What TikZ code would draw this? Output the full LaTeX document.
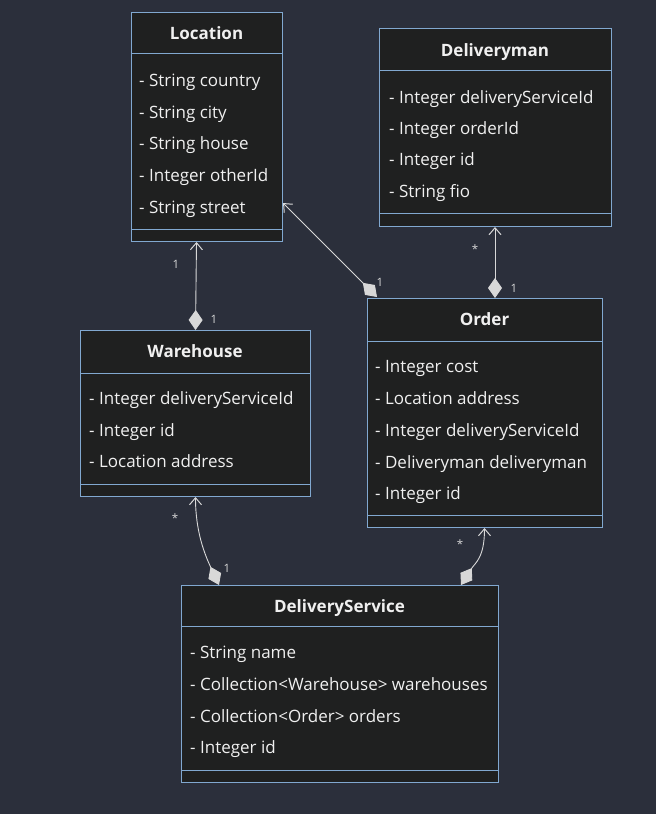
\documentclass[tikz,border=0pt]{standalone}
\usepackage{fontspec}
\setmainfont{Open Sans}
\usetikzlibrary{arrows.meta}
\definecolor{bg}{HTML}{2B2F3B}
\definecolor{boxfill}{HTML}{1F2020}
\definecolor{boxline}{HTML}{81A8D0}
\definecolor{txt}{HTML}{F0F0F0}
\definecolor{lnk}{HTML}{D8D8D8}
\tikzset{
  umlbox/.style={draw=boxline, fill=boxfill, line width=1pt, anchor=north west, inner sep=0pt},
  divline/.style={draw=boxline, line width=1pt},
  ttl/.style={text=txt, font=\fontsize{17}{20}\selectfont\bfseries, inner sep=0pt, anchor=base},
  attr/.style={text=txt, font=\fontsize{17}{20}\selectfont, anchor=base west, inner sep=0pt},
  mult/.style={text=lnk, font=\fontsize{11.5}{13}\selectfont, inner sep=0pt},
  assoc/.style={draw=lnk, line width=0.9pt, {Diamond[length=20pt,width=14pt,fill=lnk]}-{Straight Barb[length=7pt,width=12pt,line width=1pt]}}
}
\begin{document}
\begin{tikzpicture}[x=1pt,y=-1pt]
\fill[bg] (0,0) rectangle (656,814);
\useasboundingbox (0,0) rectangle (656,814);

% Location
\node[umlbox, minimum width=151pt, minimum height=229pt] (loc) at (131,12) {};
\draw[divline] (131,53) -- (282,53);
\draw[divline] (131,229) -- (282,229);
\node[ttl] (locT) at (206.5,39) {Location};
\node[attr] (loc1) at (139,86) {- String country};
\node[attr] (loc2) at (139,118) {- String city};
\node[attr] (loc3) at (139,149) {- String house};
\node[attr] (loc4) at (139,181) {- Integer otherId};
\node[attr] (loc5) at (139,213) {- String street};

% Deliveryman
\node[umlbox, minimum width=232pt, minimum height=198pt] (dm) at (379,28) {};
\draw[divline] (379,70) -- (611,70);
\draw[divline] (379,213) -- (611,213);
\node[ttl] (dmT) at (495,56) {Deliveryman};
\node[attr] (dm1) at (389,103) {- Integer deliveryServiceId};
\node[attr] (dm2) at (389,134) {- Integer orderId};
\node[attr] (dm3) at (389,165) {- Integer id};
\node[attr] (dm4) at (389,197) {- String fio};

% Warehouse
\node[umlbox, minimum width=230pt, minimum height=166pt] (wh) at (80,330) {};
\draw[divline] (80,373) -- (310,373);
\draw[divline] (80,484) -- (310,484);
\node[ttl] (whT) at (195,357) {Warehouse};
\node[attr] (wh1) at (89,404) {- Integer deliveryServiceId};
\node[attr] (wh2) at (89,436) {- Integer id};
\node[attr] (wh3) at (89,467) {- Location address};

% Order
\node[umlbox, minimum width=235pt, minimum height=229pt] (ord) at (367,298) {};
\draw[divline] (367,341) -- (602,341);
\draw[divline] (367,515) -- (602,515);
\node[ttl] (ordT) at (484.5,325) {Order};
\node[attr] (ord1) at (375,372) {- Integer cost};
\node[attr] (ord2) at (375,404) {- Location address};
\node[attr] (ord3) at (375,436) {- Integer deliveryServiceId};
\node[attr] (ord4) at (375,468) {- Deliveryman deliveryman};
\node[attr] (ord5) at (375,499) {- Integer id};

% DeliveryService
\node[umlbox, minimum width=317pt, minimum height=197pt] (ds) at (181,585) {};
\draw[divline] (181,626) -- (498,626);
\draw[divline] (181,770) -- (498,770);
\node[ttl] (dsT) at (339.5,612) {DeliveryService};
\node[attr] (ds1) at (190,658) {- String name};
\node[attr] (ds2) at (190,690) {- Collection<Warehouse> warehouses};
\node[attr] (ds3) at (190,722) {- Collection<Order> orders};
\node[attr] (ds4) at (190,753) {- Integer id};

% connectors
\draw[assoc] (wh.north) -- ([xshift=-10.5pt]loc.south);
\draw[assoc] ([xshift=10pt,yshift=1pt]ord.north west) -- ([yshift=39pt]loc.south east);
\draw[assoc] ([xshift=10pt]ord.north) -- ([xshift=-0.5pt]dm.south);
\draw[assoc] ([xshift=-121pt]ds.north) .. controls +(-14,-30) and +(0,35) .. (wh.south);
\draw[assoc] ([xshift=121pt]ds.north) .. controls +(14,-22) and +(0,30) .. ([xshift=-0.5pt]ord.south);

% multiplicities
\node[mult] (m1) at (176,264) {1};
\node[mult] (m2) at (214,319) {1};
\node[mult] (m3) at (380,282) {1};
\node[mult] (m4) at (475,249) {*};
\node[mult] (m5) at (514,288) {1};
\node[mult] (m6) at (175,518) {*};
\node[mult] (m7) at (227,568) {1};
\node[mult] (m8) at (460,544) {*};
\end{tikzpicture}
\end{document}
